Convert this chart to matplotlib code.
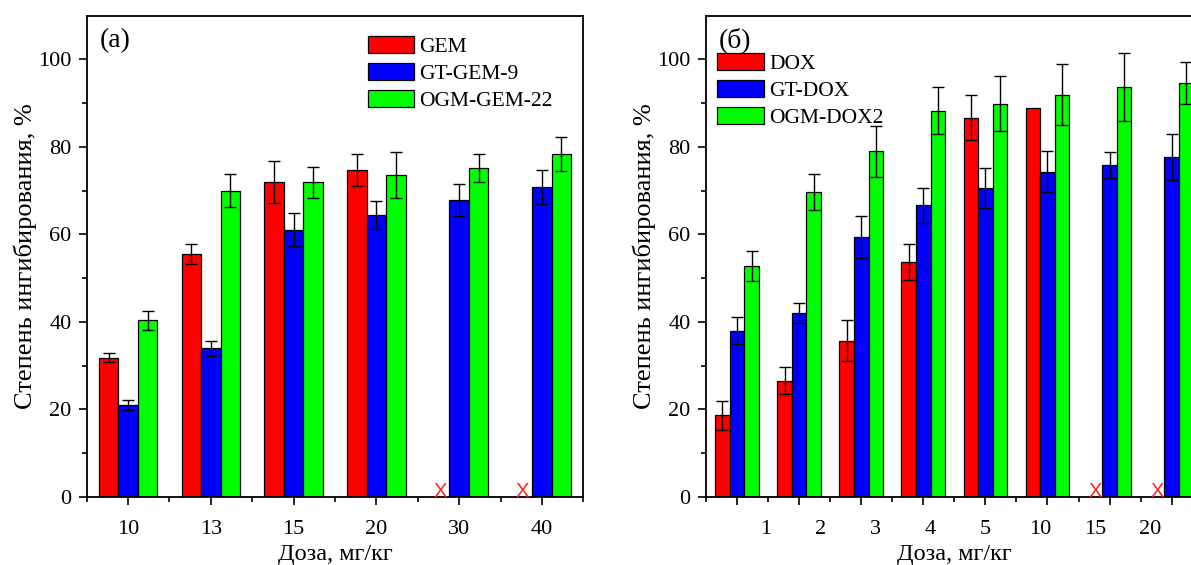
import numpy as np
import matplotlib
matplotlib.use("Agg")
import matplotlib.pyplot as plt
from matplotlib.ticker import FixedLocator

plt.rcParams['font.family'] = ['Liberation Serif', 'DejaVu Serif']

nan = np.nan

# ---- Panel (a) data ----
doses_a = ['10', '13', '15', '20', '30', '40']
gem = [31.8, 55.5, 71.9, 74.7, nan, nan]
gem_err = [1.1, 2.3, 4.8, 3.6, nan, nan]
gt_gem9 = [21.0, 33.9, 61.1, 64.5, 67.9, 70.9]
gt_gem9_err = [1.1, 1.8, 3.8, 3.2, 3.6, 3.9]
ogm_gem22 = [40.3, 70.0, 71.9, 73.5, 75.2, 78.3]
ogm_gem22_err = [2.2, 3.7, 3.5, 5.3, 3.2, 3.9]
labels_a = ['GEM', 'GT-GEM-9', 'OGM-GEM-22']

# ---- Panel (б) data ----
doses_b = ['1', '2', '3', '4', '5', '10', '15', '20']
dox = [18.6, 26.5, 35.7, 53.6, 86.7, 89.0, nan, nan]
dox_err = [3.3, 3.1, 4.7, 4.1, 5.1, nan, nan, nan]
gt_dox = [38.0, 42.0, 59.5, 66.6, 70.6, 74.3, 75.8, 77.7]
gt_dox_err = [3.1, 2.3, 4.8, 4.0, 4.6, 4.7, 3.0, 5.3]
ogm_dox2 = [52.7, 69.6, 79.0, 88.3, 89.9, 91.9, 93.7, 94.7]
ogm_dox2_err = [3.4, 4.1, 5.8, 5.3, 6.3, 7.0, 7.7, 4.8]
labels_b = ['DOX', 'GT-DOX', 'OGM-DOX2']

colors = ['#ff0000', '#0000ff', '#00ff00']
width = 0.235

fig = plt.figure(figsize=(11.91, 5.65), dpi=100)
ax1 = fig.add_axes([0.0728, 0.1209, 0.417, 0.8513])
ax2 = fig.add_axes([0.5928, 0.1209, 0.417, 0.8513])


def draw(ax, doses, series, errs, labels, panel, leg_anchor, squeeze=None):
    n = len(doses)
    x = np.arange(n)
    handles = []
    for k, (vals, err, col) in enumerate(zip(series, errs, colors)):
        vals = np.asarray(vals, float)
        err = np.asarray(err, float)
        pos = x + (k - 1) * width
        ok = np.isfinite(vals)
        b = ax.bar(pos[ok], vals[ok], width, color=col, edgecolor='black',
                   linewidth=0.9, zorder=2)
        handles.append(b)
        m = np.isfinite(err) & ok
        ax.errorbar(pos[m], vals[m], yerr=err[m], fmt='none', ecolor='black',
                    elinewidth=1.0, capsize=4, capthick=1.0, zorder=3)
        for p in pos[~ok]:
            ax.annotate('X', xy=(p, 0), ha='center', va='baseline',
                        color='#ff2020', fontsize=14.5, family='Liberation Sans',
                        zorder=4)
    ax.set_xlim(-0.5, n - 0.5)
    ax.set_ylim(0, 110)
    ax.yaxis.set_major_locator(FixedLocator([0, 20, 40, 60, 80, 100]))
    ax.yaxis.set_minor_locator(FixedLocator([10, 30, 50, 70, 90]))
    ax.set_xticks(x)
    ax.xaxis.set_minor_locator(FixedLocator(np.arange(n + 1) - 0.5))
    ax.tick_params(which='both', direction='out', top=False, right=False,
                   width=1.2, labelsize=16)
    ax.tick_params(which='major', length=6)
    ax.tick_params(which='minor', length=3.5)
    ax.tick_params(axis='x', pad=11)
    ax.tick_params(axis='y', pad=5)
    if squeeze is None:
        ax.set_xticklabels(doses)
    else:
        ax.set_xticklabels([])
        for i, lbl in enumerate(doses):
            ax.annotate(lbl, xy=(4 + (i - 4) * squeeze, 0),
                        xycoords=ax.get_xaxis_transform(),
                        xytext=(0, -17), textcoords='offset points',
                        ha='center', va='top', fontsize=16)
    for s in ax.spines.values():
        s.set_linewidth(1.3)
    ax.set_xlabel('Доза, мг/кг', fontsize=17.5)
    ax.set_ylabel('Степень ингибирования, %', fontsize=19)
    ax.xaxis.set_label_coords(0.5, -0.099)
    ax.yaxis.set_label_coords(-0.101, 0.5)
    ax.text(0.026, 0.949, panel, transform=ax.transAxes, fontsize=20,
            ha='left', va='center')
    ax.legend(handles, labels, loc='upper left', bbox_to_anchor=leg_anchor,
              frameon=False, fontsize=15.5, handlelength=2.15,
              handleheight=0.82, handletextpad=0.25, labelspacing=0.28,
              borderpad=0, borderaxespad=0)


draw(ax1, doses_a, [gem, gt_gem9, ogm_gem22],
     [gem_err, gt_gem9_err, ogm_gem22_err], labels_a, '(a)', (0.566, 0.957))
draw(ax2, doses_b, [dox, gt_dox, ogm_dox2],
     [dox_err, gt_dox_err, ogm_dox2_err], labels_b, '(б)', (0.0228, 0.9216),
     squeeze=0.886)

fig.savefig('out.png', dpi=100, facecolor='white')
